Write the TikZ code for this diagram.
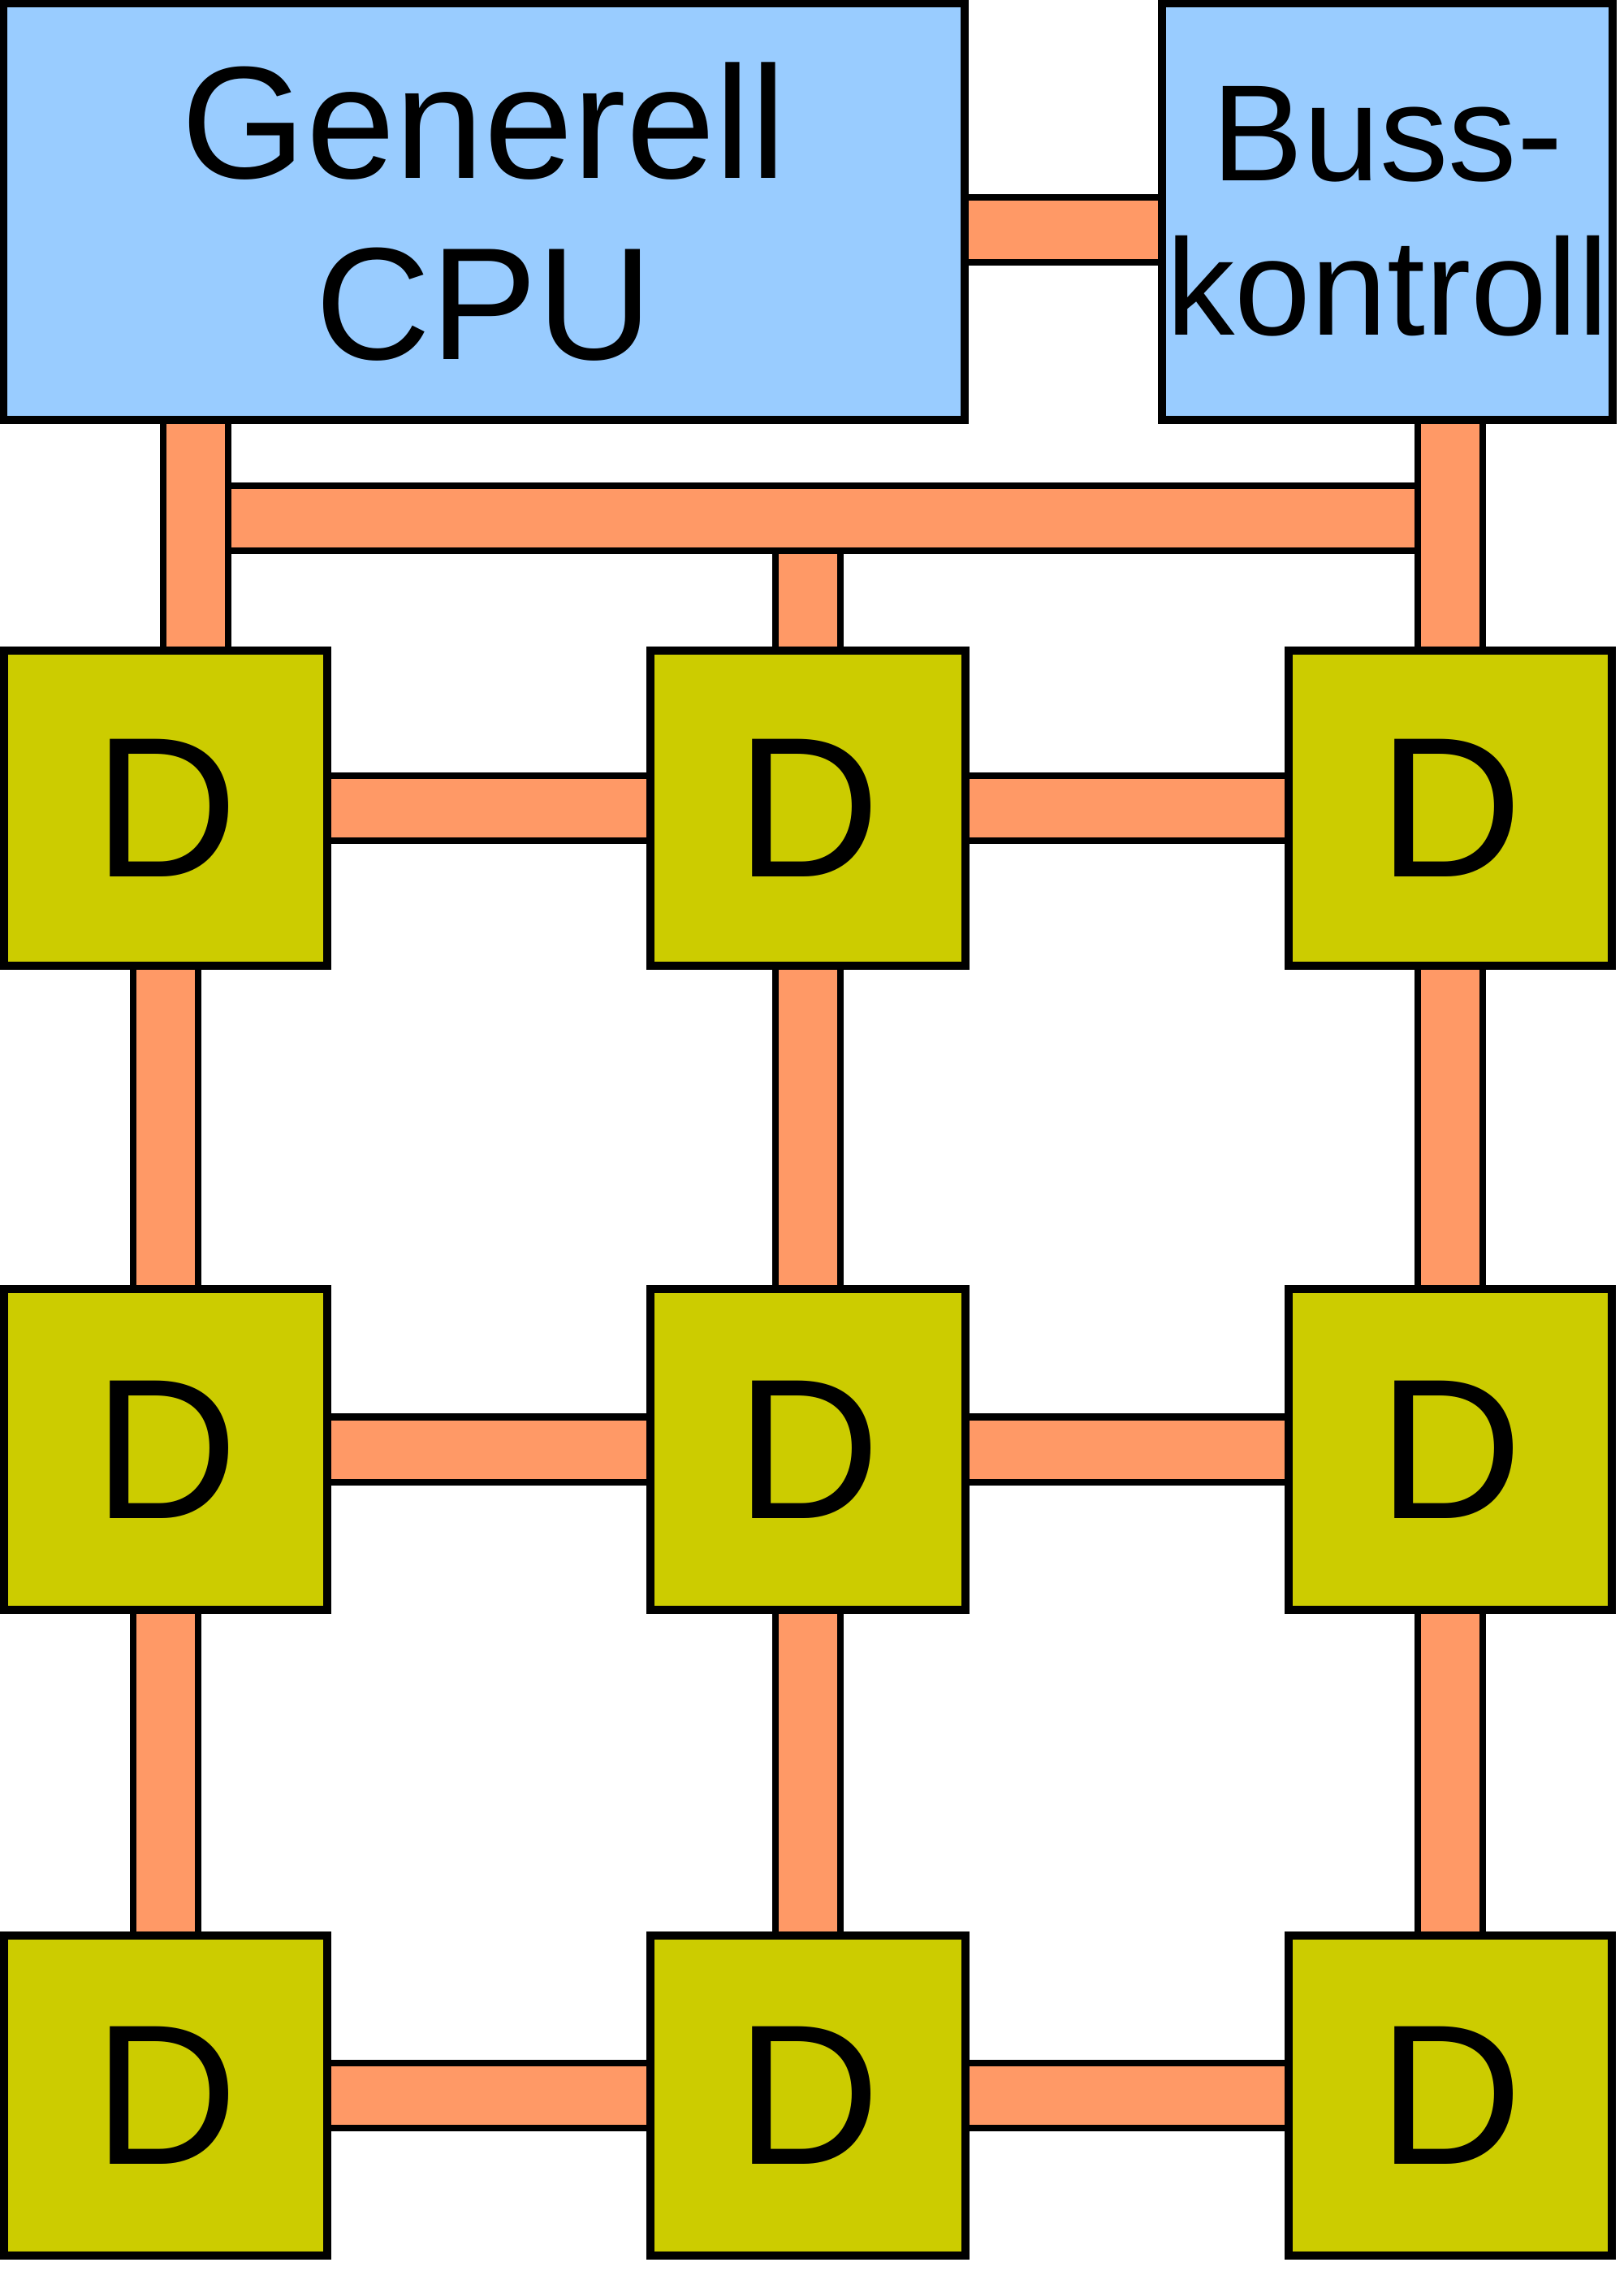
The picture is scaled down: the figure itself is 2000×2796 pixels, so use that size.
\documentclass[tikz,border=0pt]{standalone}
\usepackage{fontspec}
\setmainfont{Liberation Sans}
\definecolor{cpublue}{HTML}{99CCFF}
\definecolor{dyellow}{HTML}{CCCC00}
\definecolor{busorange}{HTML}{FF9966}
\pgfdeclarelayer{bg}
\pgfsetlayers{bg,main}
\begin{document}
\begin{tikzpicture}[x=0.01cm, y=-0.01cm,
  box/.style={draw=black, line width=2.8pt, rectangle, inner sep=0pt, align=center},
  cpubox/.style={box, fill=cpublue},
  dbox/.style={box, fill=dyellow, font=\fontsize{70}{80}\selectfont},
  bar/.style={draw=black, line width=2.3pt, double=busorange, double distance=0.72cm, line cap=butt}
]
\useasboundingbox (0,0) rectangle (2000,2796);

% top boxes
\node[cpubox, minimum width=11.84cm, minimum height=5.13cm,
      font=\fontsize{56}{63.4}\selectfont] (cpu) at (596,260.5) {Generell\\CPU};
\node[cpubox, minimum width=5.55cm, minimum height=5.13cm,
      font=\fontsize{48}{54}\selectfont] (bk) at (1708.5,260.5) {Buss-\\kontroll};

% D grid
\node[dbox, minimum width=3.98cm, minimum height=3.88cm] (d11) at (204,995) {D};
\node[dbox, minimum width=3.87cm, minimum height=3.88cm] (d12) at (995,995) {D};
\node[dbox, minimum width=3.98cm, minimum height=3.88cm] (d13) at (1786,995) {D};
\node[dbox, minimum width=3.98cm, minimum height=3.95cm] (d21) at (204,1784.5) {D};
\node[dbox, minimum width=3.87cm, minimum height=3.95cm] (d22) at (995,1784.5) {D};
\node[dbox, minimum width=3.98cm, minimum height=3.95cm] (d23) at (1786,1784.5) {D};
\node[dbox, minimum width=3.98cm, minimum height=3.94cm] (d31) at (204,2580) {D};
\node[dbox, minimum width=3.87cm, minimum height=3.94cm] (d32) at (995,2580) {D};
\node[dbox, minimum width=3.98cm, minimum height=3.94cm] (d33) at (1786,2580) {D};

\coordinate (cb) at (0,283);
\coordinate (busL) at (241,638);
\coordinate (busM) at (995,638);
\coordinate (busR) at (1786,638);

\begin{pgfonlayer}{bg}
  % bus
  \draw[bar] (busM) -- (d12.north);
  \draw[bar] (busL) -- (busR);
  \draw[bar] (cpu.south -| busL) -- (d11.north -| busL);
  \draw[bar] (bk.south -| busR) -- (d13.north);
  \draw[bar] (cpu.east |- cb) -- (bk.west |- cb);
  % grid horizontal
  \draw[bar] (d11) -- (d12);
  \draw[bar] (d12) -- (d13);
  \draw[bar] (d21) -- (d22);
  \draw[bar] (d22) -- (d23);
  \draw[bar] (d31) -- (d32);
  \draw[bar] (d32) -- (d33);
  % grid vertical
  \draw[bar] (d11) -- (d21);
  \draw[bar] (d21) -- (d31);
  \draw[bar] (d12) -- (d22);
  \draw[bar] (d22) -- (d32);
  \draw[bar] (d13) -- (d23);
  \draw[bar] (d23) -- (d33);
\end{pgfonlayer}
\end{tikzpicture}
\end{document}
